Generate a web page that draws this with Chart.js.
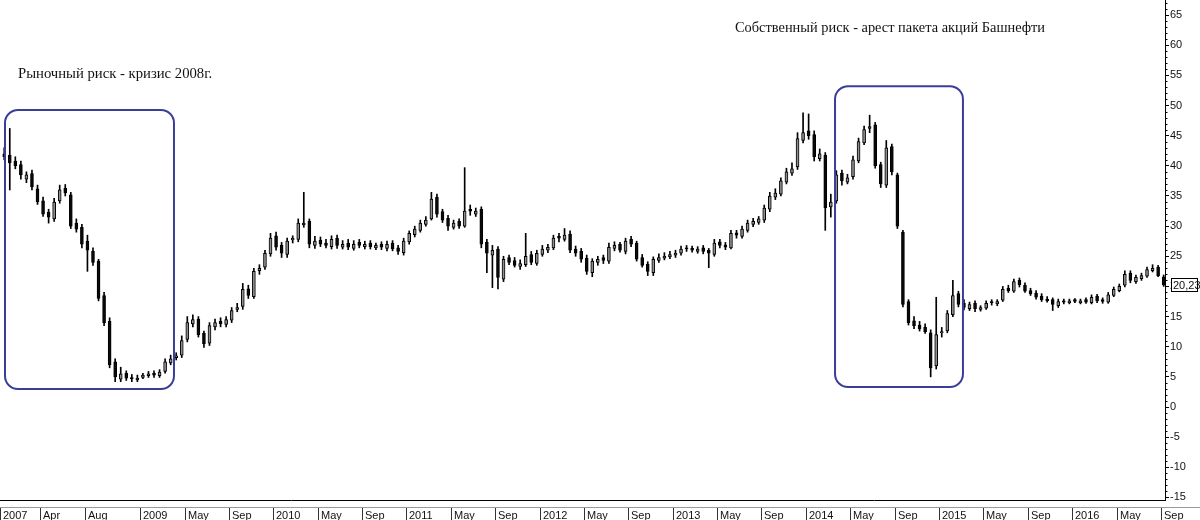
<!DOCTYPE html>
<html><head><meta charset="utf-8">
<script src="https://cdn.jsdelivr.net/npm/chart.js@4.4.1/dist/chart.umd.min.js"></script>
<style>html,body{margin:0;padding:0;background:#fff;overflow:hidden}#wrap{width:1200px;height:520px;position:relative}</style>
</head><body><div id="wrap"><canvas id="c" width="1200" height="520"></canvas></div>
<script>
// Half-month candles, Dec 2007 .. Sep 2016 (price, RUB)
const opens = [
42,41.8,40.8,40.2,37.8,38.7,36.2,34.2,32.3,31.2,
34.2,36.3,35.2,30.5,29.8,27.5,25.8,24.2,18.5,14.2,
7.5,4.6,5.6,4.9,4.5,4.9,5.2,5.6,5.2,5.9,
7.3,8.2,8.6,11.2,13.8,14.6,12.2,10.6,13.3,14.2,
13.7,14.4,16.2,16.7,19.6,18.3,22.6,23.2,25.4,28.4,
26.8,25.3,27.7,27.8,30.2,30.8,26.8,27.7,27.2,26.6,
28,26.5,27.2,26.3,27.3,26.6,27.2,26.4,27,26.3,
27.2,26.4,25.6,27.4,28.6,29.3,30.3,31.2,34.8,32.4,
31.3,29.8,30.8,30,32.8,32,32.8,27.3,25.2,26.2,
21.2,24.8,24.3,23.3,23.6,25.3,23.8,25.3,26,26.4,
28.3,27.8,28.7,26.2,25.8,24.7,22.3,24,24.8,24.2,
26.3,27,25.8,27.8,27.2,24.8,23.7,22.3,24.3,24.7,
24.9,25.2,25.5,26.4,26.3,25.8,26.4,26,25.3,27.4,
26.9,26.4,28.9,28.3,29.3,30.3,30.6,31,32.8,34.8,
35.3,37.3,38.8,39.8,44.2,45.8,45.2,41.2,41.8,33.2,
34.2,38.8,37.3,38.2,40.8,43.8,46.2,46.8,40.2,36.8,
43.2,38.5,29,17.5,14.3,13.6,13.2,12.3,6.8,12.3,
12.6,15.3,18.8,17.2,16.3,17.2,16.2,16.4,17.5,17.1,
17.7,19.7,19.2,21,20.2,19.3,18.9,18.4,17.9,17.8,
16.8,17.6,17.3,17.8,17.3,17.8,17.3,18.4,17.8,17.4,
18.5,19.3,20.2,22.2,20.8,21.3,21.7,22.6,23.2,21.6
];
const highs = [
43,46.2,41.5,40.8,39,39.3,36.8,34.8,32.8,34.6,
36.8,36.9,35.6,31.2,30.3,28.5,26.4,24.5,19,14.8,
8,6.6,6,5.4,5.3,5.6,5.9,6,6.2,8,
8.6,9,11.8,15,15.3,15,12.6,14,14.6,14.8,
15,16.5,17.2,20.5,20.2,23,23.6,26,28.8,29,
27.3,28,28.4,31.2,35.6,31.2,28.3,28.2,27.8,28.4,
28.5,27.6,27.8,27.6,27.8,27.5,27.6,27.2,27.4,27.5,
27.6,26.8,28,29.2,30,31,31.6,35.6,35.3,32.8,
31.8,31,31.2,39.7,33.5,33,33.2,27.8,26.8,26.6,
25,25.2,24.8,24.4,28.8,25.8,26,26.8,27,28.5,
28.8,29.6,29.2,26.7,26.3,25.2,24.6,25,25.2,27.2,
27.4,27.3,28,28.3,27.5,25.3,24.1,24.9,25.4,25.6,
25.8,26,26.7,26.8,26.7,26.6,26.8,26.3,27.8,27.8,
27.3,29.3,29.3,30,31,31.3,31.6,33.5,35.6,36.2,
38,39.6,40.5,45.5,48.8,48.6,45.8,42.8,42.2,35.3,
39.2,39.3,38.6,41.6,44.6,46.6,48.4,47.2,40.6,44.2,
43.6,38.8,29.3,17.8,15,14.2,13.8,12.8,18.2,13.2,
16,21,19.2,17.8,17.4,17.6,16.8,17.6,17.8,17.8,
20,20.2,21.2,21.4,20.6,19.7,19.3,18.8,18.3,18.1,
17.9,17.9,17.9,18,17.9,18.1,18.6,18.7,18.1,19,
19.9,20.4,22.6,22.6,21.9,22.2,23.2,23.6,23.5,21.9
];
const lows = [
41,36,39.5,37.8,37.2,36,33.6,31.6,30.5,30.8,
33.8,35,29.6,29,26.4,22.5,23.5,17.6,13.5,6.5,
4.2,4.2,4.4,4.2,4.2,4.7,4.9,4.9,4.9,5.6,
7,7.8,8.2,10.8,13.3,11.6,9.9,10.2,12.8,13.3,
13.3,14,15.8,16.2,18,18,22,22.8,25,26,
24.8,24.8,27.2,27.4,29.8,26.4,26.3,26.6,26.4,26.2,
26.3,26.2,26.1,26,26.4,26.2,26.2,26.1,26.1,25.9,
25.9,25.3,25.2,27,28.2,29,30,31,31.5,30.6,
29.3,29.5,29.6,29.8,31.8,31.6,26.4,22.3,19.8,19.6,
20.8,23.6,23.2,22.8,23.3,23.6,23.5,25,25.6,26.1,
27.4,27.5,25.6,25,24,22,21.6,23.5,23.8,23.8,
25.9,25.7,25.4,26.6,24.2,23.2,21.8,21.8,24,24.4,
24.6,24.8,25.2,25.8,25.7,25.5,25.4,23.1,25,26.4,
26.1,26.2,28,28,29,29.9,30.3,30.6,32.4,34.4,
35,37,38.4,39.4,43.8,44.4,40.8,40.8,29.3,31.5,
33.8,36.8,37,37.8,40.5,43.5,45.5,39.6,36.4,36.4,
38.5,29.6,16.6,13.6,13,12.6,12.2,5,6.3,11.6,
12.3,15,16.6,16.1,16,15.8,15.9,16.2,16.9,16.8,
17.5,19,19,19.9,19,18.5,17.9,17.5,17.4,16,
16.5,17.1,17.1,17.3,17.1,17.2,17.1,17.3,17.2,17.2,
18.3,19.1,19.9,20.6,20.5,21,21.5,22.4,21.6,20
];
const closes = [
41.5,40.5,40,38.5,38.5,36.5,34,32,31.5,34,
36,35.5,30,29.5,27,26,24,18,14,7,
5,5.5,4.8,4.7,4.8,5.3,5.5,5.3,5.8,7.5,
8,8.5,11,14,14.5,12,10.5,13.5,14,13.8,
14.5,16,16.5,19.5,18.5,22.5,23,25.5,28,26.5,
25.5,27.5,28,30.5,30.5,27,27.5,27,26.8,27.8,
26.8,27,26.5,27,26.8,27,26.6,26.8,26.5,27,
26.2,25.8,27.5,28.8,29.5,30.5,31,34.5,32,31,
30,30.5,30,32.5,32.5,32.5,27,25.5,26,21.5,
24.5,24,23.5,23.8,25,24,25.5,26.2,26.5,28,
28,28.5,26,25.5,24.5,22.5,24.2,24.5,24.3,26.5,
26.8,26,27.5,27,24.5,23.5,22.5,24.5,24.8,25,
25.3,25.5,26.2,26.2,26,26.2,25.8,25.5,27.2,26.8,
26.5,28.8,28.5,29.5,30.5,30.8,31.2,33,35,35.5,
37.5,39,39.5,44.5,45.5,45,41.5,42,33,34,
38.5,37.5,38,41,44,46,46.5,40,37,43,
39,30,17,14,13.5,13,12.5,6.5,12,12.5,
15.5,18.5,17,16.5,17,16.3,16.5,17.2,17.3,17.5,
19.5,19.3,20.8,20.3,19.2,18.8,18.2,17.8,17.6,17,
17.5,17.4,17.6,17.5,17.6,17.4,18.2,17.6,17.5,18.6,
19.5,20,22,21,21.5,21.8,22.8,23,21.8,20.23
];
// time axis in months since Jan 2008
const firstCandleMonth = -0.25;
const candleStepMonths = 0.5;
const xTickMonths = [-0.63,3,7,12,16,20,24,28,32,36,40,44,48,52,56,60,64,68,72,76,80,84,88,92,96,100,104];
const xTickLabels = ['2007','Apr','Aug','2009','May','Sep','2010','May','Sep','2011','May','Sep','2012','May','Sep','2013','May','Sep','2014','May','Sep','2015','May','Sep','2016','May','Sep'];
const yTickValues = [-15,-10,-5,0,5,10,15,20,25,30,35,40,45,50,55,60,65];
const noteTexts = ['Рыночный риск - кризис 2008г.','Собственный риск - арест пакета акций Башнефти'];
// highlighted periods (months, price)
const riskBoxes = [
  {m0:-0.18, m1:15.05, p0:2.98, p1:49.26},
  {m0:74.63, m1:86.16, p0:3.3, p1:53.2}
];

const X_MIN = -0.631, X_MAX = 104.37, Y_MIN = -15.42, Y_MAX = 67.5;
const xs = closes.map((_, i) => firstCandleMonth + candleStepMonths * i);
const wickData = xs.map((x, i) => ({x: x, y: [lows[i], highs[i]]}));
const bodyData = xs.map((x, i) => ({x: x, y: [opens[i], closes[i]]}));
const upFill = '#8e8e8e', downFill = '#0a0a0a';
const bodyFill = closes.map((c, i) => c >= opens[i] ? upFill : downFill);

const decor = {
  id: 'decor',
  afterDraw(chart) {
    const ctx = chart.ctx, xs_ = chart.scales.x, ys_ = chart.scales.y, ca = chart.chartArea;
    ctx.save();
    ctx.strokeStyle = '#000'; ctx.lineWidth = 1;
    for (let v = Math.ceil(Y_MIN); v <= Math.floor(Y_MAX); v++) {
      if (v % 5 === 0) continue;
      const y = Math.round(ys_.getPixelForValue(v)) + 0.5;
      ctx.beginPath(); ctx.moveTo(ca.right, y); ctx.lineTo(ca.right + 2.5, y); ctx.stroke();
    }
    ctx.beginPath(); ctx.moveTo(0, ca.bottom + 0.5); ctx.lineTo(ca.right + 1, ca.bottom + 0.5); ctx.stroke();
    ctx.strokeStyle = '#9a9a9a';
    ctx.beginPath(); ctx.moveTo(0, ca.bottom + 7.5); ctx.lineTo(1200, ca.bottom + 7.5); ctx.stroke();
    ctx.font = '11px "Liberation Sans", Arial, sans-serif';
    ctx.fillStyle = '#111'; ctx.textAlign = 'left'; ctx.textBaseline = 'alphabetic';
    xTickMonths.forEach((m, i) => {
      const x = Math.max(0, Math.round(xs_.getPixelForValue(m))) + 0.5;
      ctx.strokeStyle = '#333';
      ctx.beginPath(); ctx.moveTo(x, ca.bottom + 8); ctx.lineTo(x, 520); ctx.stroke();
      ctx.fillText(xTickLabels[i], x + 2.5, 519);
    });
    ctx.strokeStyle = '#3b3e98'; ctx.lineWidth = 2;
    riskBoxes.forEach(b => {
      const x0 = xs_.getPixelForValue(b.m0), x1 = xs_.getPixelForValue(b.m1);
      const y0 = ys_.getPixelForValue(b.p1), y1 = ys_.getPixelForValue(b.p0);
      ctx.beginPath(); ctx.roundRect(x0, y0, x1 - x0, y1 - y0, 13); ctx.stroke();
    });
    ctx.fillStyle = '#111';
    ctx.font = '14.7px "Liberation Serif", "Times New Roman", serif';
    ctx.fillText(noteTexts[0], 18, 78);
    ctx.font = '14.4px "Liberation Serif", "Times New Roman", serif';
    ctx.fillText(noteTexts[1], 735, 32);
    const last = closes[closes.length - 1];
    const ly = Math.round(ys_.getPixelForValue(last));
    ctx.fillStyle = '#fff'; ctx.fillRect(1171, ly - 7, 27, 14);
    ctx.strokeStyle = '#000'; ctx.lineWidth = 1;
    ctx.strokeRect(1171.5, ly - 6.5, 26, 13);
    ctx.fillStyle = '#111'; ctx.font = '11px "Liberation Sans", Arial, sans-serif';
    ctx.textBaseline = 'middle';
    ctx.fillText(last.toFixed(2).replace('.', ','), 1173, ly + 0.5);
    ctx.restore();
  }
};

new Chart(document.getElementById('c'), {
  type: 'bar',
  data: {
    datasets: [
      {data: wickData, backgroundColor: '#000', barThickness: 1, grouped: false, order: 2},
      {data: bodyData, backgroundColor: bodyFill, borderColor: '#000', borderWidth: 1, borderSkipped: false, barThickness: 3, grouped: false, order: 1}
    ]
  },
  options: {
    responsive: false, animation: false,
    layout: {padding: {left: 0, top: 0, right: 0, bottom: 20}},
    plugins: {legend: {display: false}, tooltip: {enabled: false}},
    scales: {
      x: {type: 'linear', min: X_MIN, max: X_MAX, offset: false, display: false},
      y: {
        position: 'right', min: Y_MIN, max: Y_MAX,
        afterBuildTicks: s => { s.ticks = yTickValues.map(v => ({value: v})); },
        afterFit: s => { s.width = 35; s.paddingTop = 0; s.paddingBottom = 0; },
        grid: {drawOnChartArea: false, drawTicks: true, tickLength: 4, color: '#000'},
        border: {display: true, color: '#000', width: 1},
        ticks: {padding: 1, color: '#111', font: {size: 11, family: '"Liberation Sans", Arial, sans-serif'}, callback: v => String(v)}
      }
    }
  },
  plugins: [decor]
});
</script></body></html>
